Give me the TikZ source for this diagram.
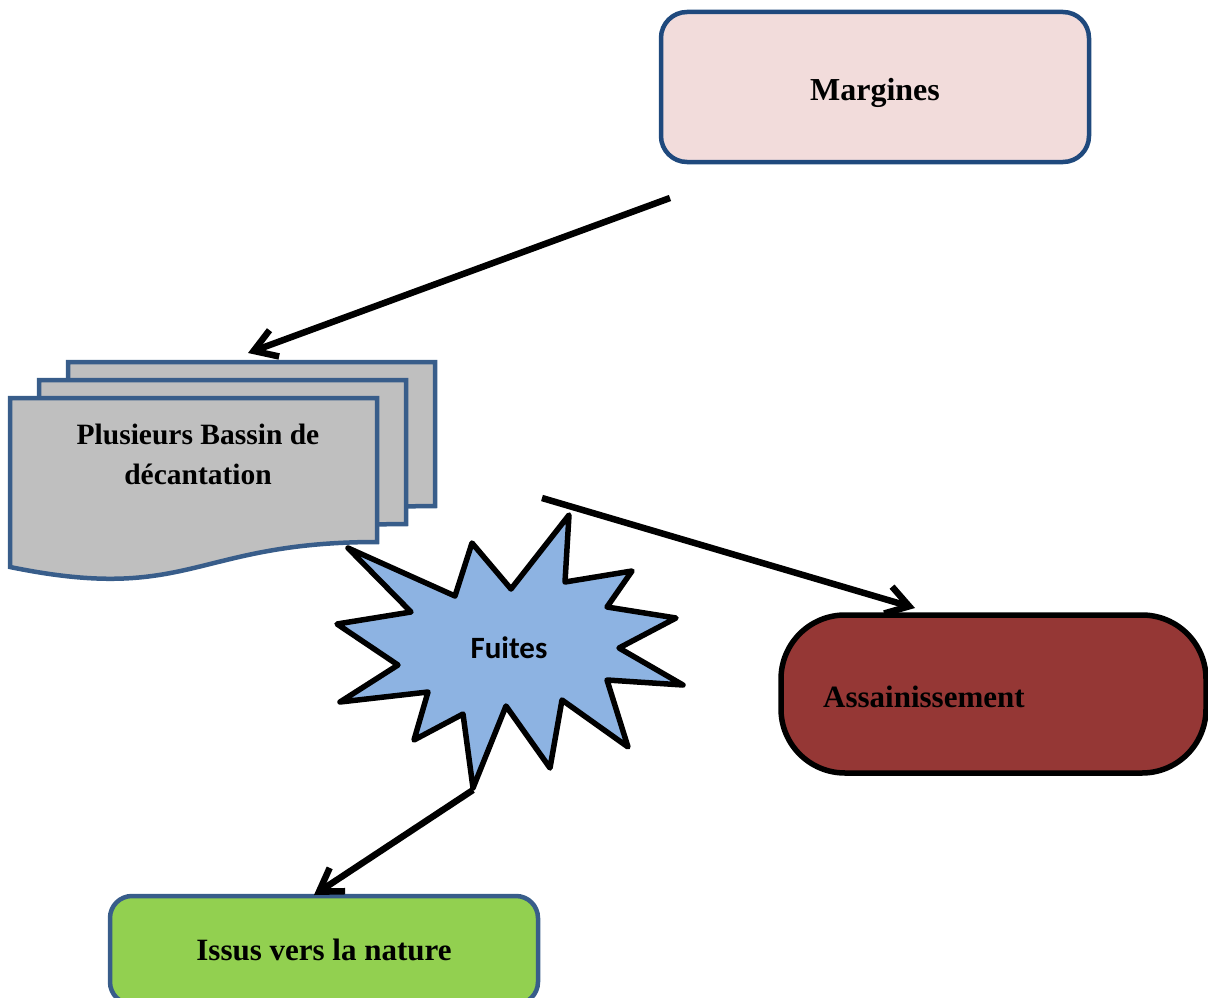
\documentclass[tikz,border=0pt]{standalone}
\usepackage{fontspec}
\setmainfont{Liberation Serif}
\newfontfamily\carlito{Carlito}
\usetikzlibrary{arrows.meta}
\definecolor{navyb}{HTML}{1F497D}
\definecolor{docb}{HTML}{385D8A}
\definecolor{pinkf}{HTML}{F2DCDB}
\definecolor{grayf}{HTML}{BFBFBF}
\definecolor{starf}{HTML}{8DB3E2}
\definecolor{redf}{HTML}{953735}
\definecolor{greenf}{HTML}{92D050}
\tikzset{
  lbl/.style={font=\fontsize{31}{40}\selectfont\bfseries, text=black},
  boxshape/.style={draw=docb, line width=4.5pt, rounded corners=22pt, inner sep=0pt},
  page/.style={draw=docb, fill=grayf, line width=4.5pt, line join=miter},
  arr/.style={line width=6.5pt, -{Straight Barb[length=22pt,width=28pt,line width=6.5pt]}, line join=miter},
}
\begin{document}
\begin{tikzpicture}[x=1pt,y=-1pt]
\clip (0,0) rectangle (1208,998);
% starburst
\draw[fill=starf, line width=5.5pt, line join=round]
 (348,548) -- (411,612) -- (337,624) -- (398,665) -- (340,702) -- (428,692)
 -- (414,740) -- (463,714) -- (473,788) -- (506,706) -- (550,768) -- (562,700)
 -- (628,747) -- (607,680) -- (683,685) -- (619,648) -- (676,618) -- (607,607)
 -- (632,571) -- (565,582) -- (569,515) -- (511,589) -- (472,543) -- (455,596) -- cycle;
\node[lbl, font=\carlito\fontsize{31}{40}\selectfont\bfseries] (fuites) at (509,648) {Fuites};
% multidocument
\foreach \dx/\dy in {58/-36, 29/-18, 0/0}{
  \draw[page, shift={(\dx,\dy)}] (10,398) -- (377,398) -- (377,542)
    .. controls (193.5,542) and (190,604) .. (10,567) -- cycle;
}
\node[lbl, font=\fontsize{29.5}{40}\selectfont\bfseries, align=center] (bassin) at (198,454) {Plusieurs Bassin de\\décantation};
% Margines
\node[boxshape, draw=navyb, fill=pinkf, minimum width=428pt, minimum height=150pt, rounded corners=26pt, lbl, font=\fontsize{32}{40}\selectfont\bfseries] (margines) at (875,87) {};
\node[lbl, font=\fontsize{32}{40}\selectfont\bfseries] (marginestxt) at (875,93) {Margines};
% Assainissement
\node[draw=black, fill=redf, line width=5.5pt, minimum width=425pt, minimum height=158pt, rounded corners=64pt] (assain) at (993.5,694) {};
\node[lbl, anchor=west, inner sep=0pt] (assaintxt) at (823,697) {Assainissement};
% Issus vers la nature
\node[boxshape, fill=greenf, minimum width=428pt, minimum height=108pt, lbl] (issus) at (324,950) {Issus vers la nature};
% connectors
\coordinate (a1s) at (670,198);
\coordinate (a1e) at (248,353);
\coordinate (a2s) at (542,498);
\coordinate (a2e) at (915,608);
\coordinate (startip) at (473,790);
\coordinate (a3e) at (314,895);
\draw[arr] (a1s) -- (a1e);
\draw[arr] (a2s) -- (a2e);
\draw[arr] (startip) -- (a3e);
\end{tikzpicture}
\end{document}
